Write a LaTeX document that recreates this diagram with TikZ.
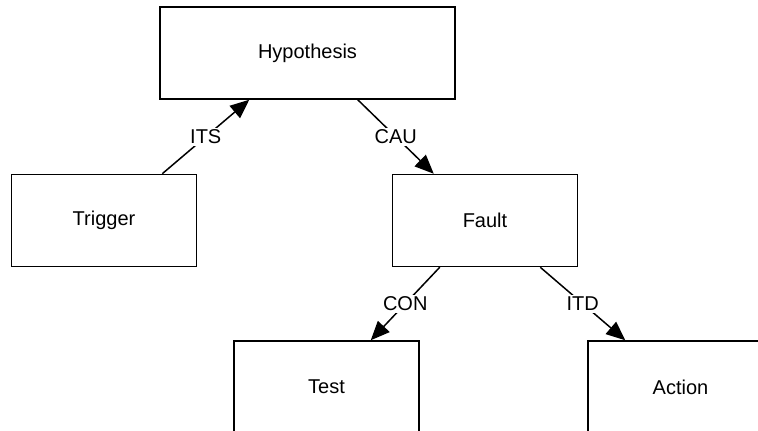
\documentclass[tikz,border=0pt]{standalone}
\usepackage{fontspec}
\setmainfont{Liberation Sans}
\usepackage{tikz}
\usetikzlibrary{positioning}
\usetikzlibrary{arrows.meta}
\tikzset{%
  relarrow/.style = {-{Triangle[length=19pt,width=16pt]},line width=1.5pt},
  box/.style = {rectangle,draw,solid,line width=1.5pt,minimum width=185pt,
        minimum height=92pt,font=\fontsize{20}{24}\selectfont},
  lbl/.style = {fill=white,inner sep=2pt,font=\fontsize{20}{24}\selectfont}
}
\begin{document}
\begin{tikzpicture}
                            \useasboundingbox (0pt,0pt) rectangle (758pt,-431pt);
                            \node[box, minimum width=295pt] (hyp) at (307.5pt,-53pt) {Hypothesis};
                            \node[box] (trig) [below left=74pt and -38pt of hyp] {Trigger};
                            \node[box] (fault) [below right=74pt and -64pt of hyp] {Fault};
                            \node[box] (test) [below left=73pt and -28pt of fault] {Test};
                            \node[box] (action) [below right=73pt and 9pt of fault] {Action};
                            \draw[relarrow] ([xshift=-35pt]trig.north east) -- node[lbl] {ITS} ([xshift=90pt]hyp.south west);
                            \draw[relarrow] ([xshift=-98pt]hyp.south east) -- node[lbl] {CAU} ([xshift=42pt]fault.north west);
                            \draw[relarrow] ([xshift=48pt]fault.south west) -- node[lbl] {CON} ([xshift=-49pt]test.north east);
                            \draw[relarrow] ([xshift=-38pt]fault.south east) -- node[lbl] {ITD} ([xshift=38pt]action.north west);
                        \end{tikzpicture}
\end{document}
